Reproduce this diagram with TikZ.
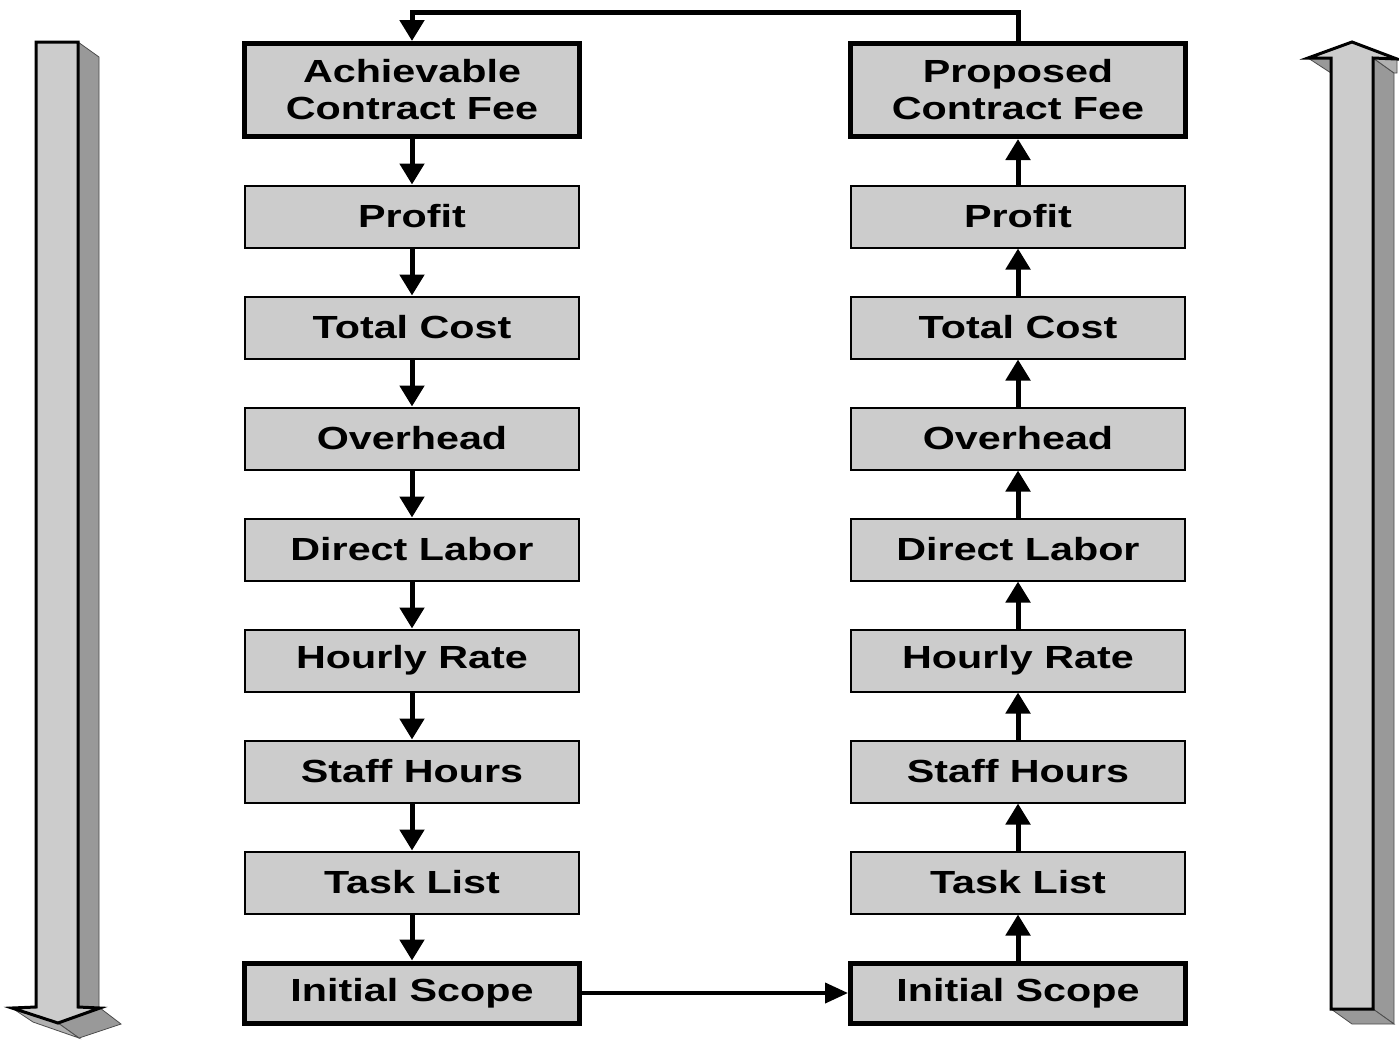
\documentclass[tikz,border=0pt]{standalone}
\usepackage{fontspec}
\setmainfont{Liberation Sans}[FakeStretch=1.29]
\usetikzlibrary{arrows.meta}

\tikzset{
  box/.style={draw=black, fill=boxgray, line width=2pt, minimum width=334pt,
    minimum height=62pt, inner sep=0pt, align=center,
    font=\fontsize{32}{37}\selectfont\bfseries},
  keybox/.style={box, line width=5pt, minimum width=335pt},
  flow/.style={line width=5pt, -{Triangle[width=24pt,length=21pt]}},
  link/.style={line width=4pt, -{Triangle[width=20pt,length=23pt]}},
  face/.style={fill=boxgray, draw=black, line width=3pt, line join=miter},
  shade/.style={fill=sidegray, draw=black!70, line width=0.8pt},
  shadelight/.style={fill=undergray, draw=black!70, line width=0.8pt},
}
\definecolor{boxgray}{HTML}{CCCCCC}
\definecolor{sidegray}{HTML}{999999}
\definecolor{undergray}{HTML}{B0B0B0}

\begin{document}
\begin{tikzpicture}[x=1pt, y=-1pt]
  \useasboundingbox[fill=white] (0,0) rectangle (1399,1039);

  % ---- left column: from the achievable fee down to the scope ----
  \node[keybox, minimum height=93pt] (a0) at (412,90) {Achievable\\Contract Fee};
  \node[box] (a1) at (412,216.5) {Profit};
  \node[box] (a2) at (412,327.5) {Total Cost};
  \node[box] (a3) at (412,438.5) {Overhead};
  \node[box] (a4) at (412,549.5) {Direct Labor};
  \node[box] (a5) at (412,660.5) {Hourly Rate};
  \node[box] (a6) at (412,771.5) {Staff Hours};
  \node[box] (a7) at (412,882.5) {Task List};
  \node[keybox, minimum height=60pt] (a8) at (412,993) {Initial Scope};

  % ---- right column: from the scope up to the proposed fee ----
  \node[keybox, minimum height=93pt] (b0) at (1018,90) {Proposed\\Contract Fee};
  \node[box] (b1) at (1018,216.5) {Profit};
  \node[box] (b2) at (1018,327.5) {Total Cost};
  \node[box] (b3) at (1018,438.5) {Overhead};
  \node[box] (b4) at (1018,549.5) {Direct Labor};
  \node[box] (b5) at (1018,660.5) {Hourly Rate};
  \node[box] (b6) at (1018,771.5) {Staff Hours};
  \node[box] (b7) at (1018,882.5) {Task List};
  \node[keybox, minimum height=60pt] (b8) at (1018,993) {Initial Scope};

  % downward chain on the left
  \foreach \i/\j in {0/1,1/2,2/3,3/4,4/5,5/6,6/7,7/8}
    \draw[flow] (a\i.south) -- (a\j.north);
  % upward chain on the right
  \foreach \i/\j in {1/0,2/1,3/2,4/3,5/4,6/5,7/6,8/7}
    \draw[flow] (b\i.north) -- (b\j.south);

  % feedback loop across the top
  \coordinate (topR) at (1018,12);
  \coordinate (topL) at (412,12);
  \draw[flow, line join=miter] (b0.north) -- (topR) -- (topL) -- (a0.north);

  % scope hand-over along the bottom
  \draw[link] (a8.east) -- (b8.west);

  % ---- left block arrow pointing down ----
  \draw[shade] (78,42) -- (99,57) -- (99,1023) -- (78,1008) -- cycle;
  \draw[shade] (58,1023) -- (100,1008) -- (121,1024) -- (79,1038) -- cycle;
  \draw[shadelight] (12,1008) -- (58,1023) -- (79,1038) -- (33,1022) -- cycle;
  \draw[face] (36,42) -- (78,42) -- (78,1007) -- (100,1008) -- (58,1023)
    -- (12,1008) -- (36,1007) -- cycle;

  % ---- right block arrow pointing up ----
  \draw[shade] (1373,58) -- (1394,73) -- (1394,1024) -- (1373,1009) -- cycle;
  \draw[shade] (1331,1009) -- (1373,1009) -- (1394,1024) -- (1352,1024) -- cycle;
  \draw[shade] (1308,58) -- (1331,58) -- (1331,73) -- cycle;
  \draw[shadelight] (1373,58) -- (1397,59) -- (1397,73) -- (1394,73) -- cycle;
  \draw[face] (1331,1009) -- (1373,1009) -- (1373,58) -- (1397,59)
    -- (1352,42) -- (1308,58) -- (1331,58) -- cycle;
\end{tikzpicture}
\end{document}
